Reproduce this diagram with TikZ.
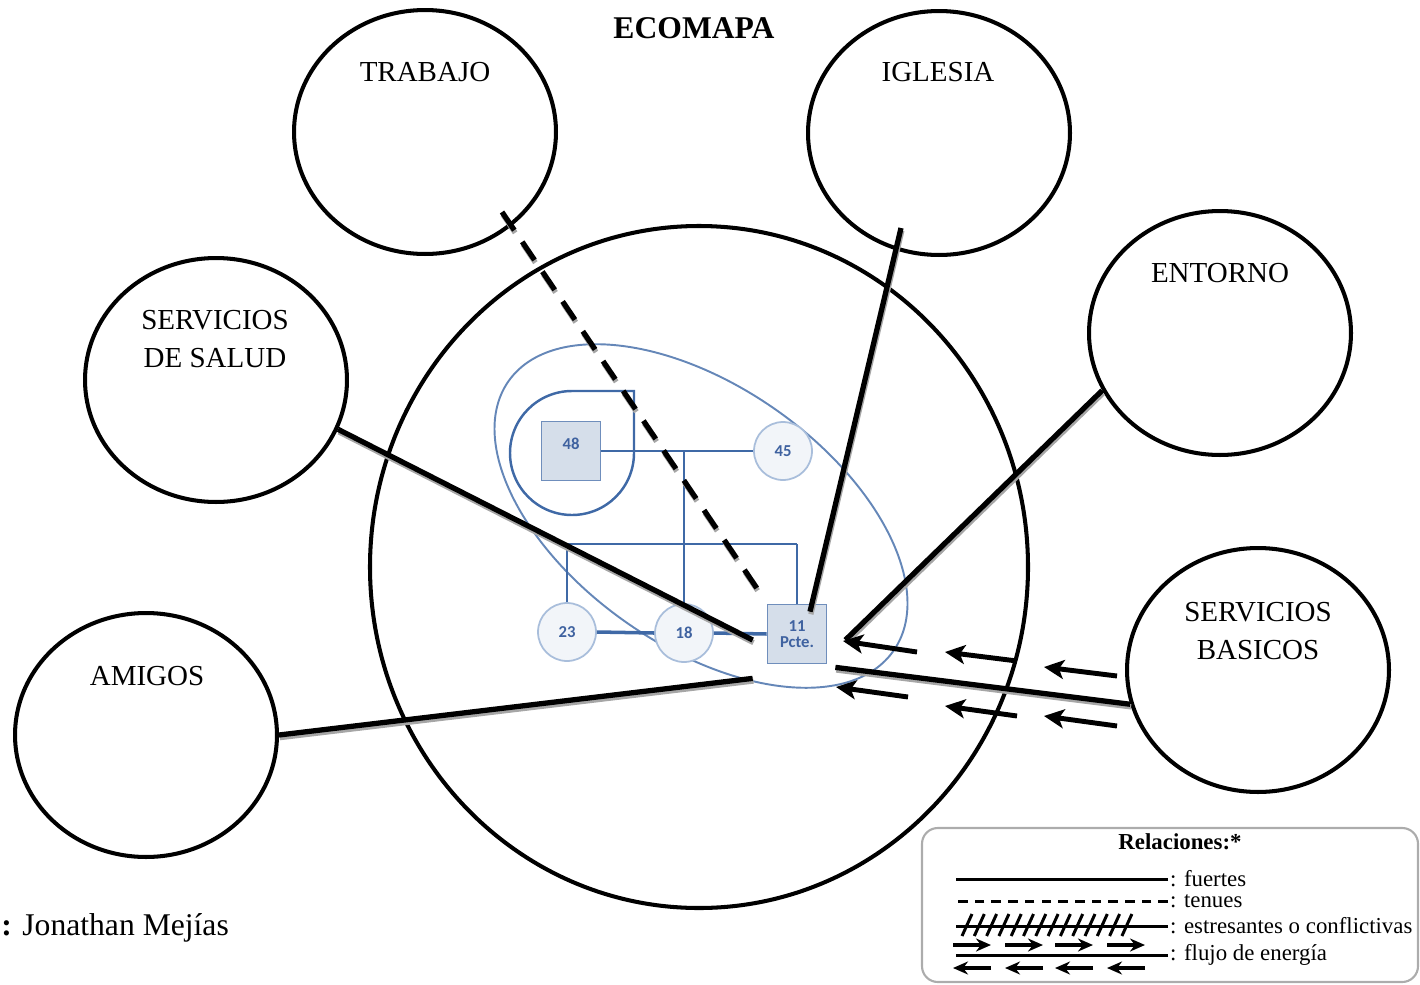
\documentclass[tikz,border=0pt]{standalone}
\usepackage{fontspec}
\setmainfont{Liberation Serif}
\newfontfamily\genofont{Carlito}
\usepackage{xcolor}
\usepackage{tikz}
\usetikzlibrary{arrows.meta}
\usetikzlibrary{shapes,shapes.geometric}
\tikzset{>=stealth}

\definecolor{genoazul}{HTML}{3F69A6}
\definecolor{genoclaro}{HTML}{A9BEDB}
\definecolor{cuadrofondo}{HTML}{D5DEEA}
\definecolor{circfondo}{HTML}{F2F5F9}
\definecolor{genotexto}{HTML}{3F62A0}

\tikzset{
  sistema/.style={draw, ellipse, line width=2.3pt, minimum width=5.24cm, minimum height=4.88cm},
  rotulo/.style={font=\fontsize{16.5}{22}\selectfont, align=center},
  conexion/.style={line width=3pt, preaction={draw=black!35, line width=3pt, transform canvas={shift={(0.5pt,-1.5pt)}}}},
  tenue/.style={line width=3pt, dash pattern=on 12.5pt off 8pt,
    preaction={draw=black!35, line width=3pt, dash pattern=on 12.5pt off 8pt, transform canvas={shift={(0.5pt,-1.5pt)}}}},
  flujo/.style={line width=2.8pt, -{Stealth[length=4mm, width=3.8mm, inset=1mm]}},
  genolinea/.style={genoazul, line width=1.4pt},
  hombre/.style={draw=genoazul!75, line width=1pt, fill=cuadrofondo, minimum size=1.18cm, font=\genofont\bfseries\fontsize{9.5}{10.5}\selectfont, text=genotexto, align=center},
  mujer/.style={circle, draw=genoclaro, line width=1pt, fill=circfondo, minimum size=1.16cm, font=\genofont\bfseries\fontsize{9.5}{10.5}\selectfont, text=genotexto},
  leyenda/.style={font=\fontsize{13}{15}\selectfont, anchor=west, inner sep=1pt},
  muestra/.style={line width=1.7pt},
  flechita/.style={line width=1.8pt, -{Stealth[length=3mm, width=2.6mm]}}
}

\begin{document}
\begin{tikzpicture}[x=0.02cm, y=-0.02cm]
\useasboundingbox (0,0) rectangle (1420,984);

% titulo
\node[font=\bfseries\fontsize{18}{20}\selectfont] (titulo) at (694,28) {ECOMAPA};

% sistema familiar
\draw[line width=2.3pt] (699,567) ellipse [x radius=329, y radius=341];

% sistemas externos
\node[sistema] (trabajo) at (425,132) {};
\node[sistema] (iglesia) at (939,133) {};
\node[sistema] (entorno) at (1220,333) {};
\node[sistema] (salud) at (216,380) {};
\node[sistema] (basicos) at (1258,670) {};
\node[sistema] (amigos) at (146,735) {};
\node[rotulo] (t-trabajo) at (425,72) {TRABAJO};
\node[rotulo] (t-iglesia) at (938,72) {IGLESIA};
\node[rotulo] (t-entorno) at (1220,273) {ENTORNO};
\node[rotulo] (t-salud) at (215,339) {SERVICIOS\\DE SALUD};
\node[rotulo] (t-basicos) at (1258,631) {SERVICIOS\\BASICOS};
\node[rotulo] (t-amigos) at (147,676) {AMIGOS};

% genograma
\draw[genoazul!80, line width=1.1pt, rotate around={-35:(701,516)}] (701,516) ellipse [x radius=235, y radius=130];
\draw[genolinea] (634,453) -- (634,391) -- (572,391) arc[start angle=270, end angle=0, radius=62];
\node[hombre, text depth=8pt] (p48) at (571,451) {48};
\node[mujer] (m45) at (783,451) {45};
\node[mujer] (h23) at (567,632) {23};
\node[mujer] (h18) at (684,633) {18};
\node[hombre] (pcte) at (797,634) {11\\[-1pt]Pcte.};
\coordinate (union) at (684,451);
\coordinate (hermanos) at (684,544);
\draw[genolinea] (p48.east) -- (m45.west);
\draw[genolinea] (union) -- (hermanos);
\draw[genolinea] (h23.north |- hermanos) -- (pcte.north |- hermanos);
\draw[genolinea] (h23.north |- hermanos) -- (h23.north);
\draw[genolinea] (hermanos) -- (h18.north);
\draw[genolinea] (pcte.north |- hermanos) -- (pcte.north);
\draw[genolinea, line width=2pt] (h23.east) -- (h18.west);
\draw[genolinea, line width=2pt] (h18.east) -- (pcte.west);

% relaciones
\coordinate (trabajo-in) at (502,212);
\coordinate (iglesia-in) at (901,228);
\draw[tenue] (trabajo-in) -- ([shift={(-2,-4)}]pcte.north west);
\draw[conexion] (iglesia-in) -- ([shift={(13,8)}]pcte.north);
\draw[conexion] (entorno.206) -- ([shift={(18,6)}]pcte.east);
\draw[conexion] (salud.338) -- ([shift={(-14,6)}]pcte.west);
\draw[conexion] (amigos.east) -- ([shift={(-14,14)}]pcte.south west);
\draw[conexion] ([shift={(8,3)}]pcte.south east) -- (basicos.195);
\foreach \xa/\ya/\xb/\yb in {917/652/843/641, 1017/661/945/652, 1117/676/1044/667,
                             908/697/836/687, 1017/716/945/706, 1117/726/1044/716}
  \draw[flujo] (\xa,\ya) -- (\xb,\yb);

% leyenda
\draw[gray!65, line width=1.2pt, rounded corners=9pt] (922,828) rectangle (1418,982);
\node[font=\bfseries\fontsize{13}{15}\selectfont] (relaciones) at (1180,842) {Relaciones:*};
\node[leyenda] (fuertes) at (1168,879) {: fuertes};
\node[leyenda] (tenues) at (1168,901) {: tenues};
\node[leyenda] (conflicto) at (1168,926) {: estresantes o conflictivas};
\node[leyenda] (energia) at (1168,955) {: flujo de energía};
\draw[muestra] (fuertes.west) -- ++(-212,0);
\draw[muestra, dash pattern=on 5.5pt off 4pt] (tenues.west) -- ++(-212,0);
\draw[muestra] (conflicto.west) -- ++(-212,0);
\foreach \i in {0,...,13}
  \draw[muestra] ({962+\i*12.3},936) -- ({972+\i*12.3},914);
\draw[muestra] (energia.west) -- ++(-212,0);
\foreach \x in {953,1005,1055,1107} {
  \draw[flechita] (\x,945) -- (\x+38,945);
  \draw[flechita] (\x+38,968) -- (\x,968);
}

% autor
\node[anchor=west, inner sep=0pt, font=\fontsize{18}{20}\selectfont] (autor) at (1,928) {\textbf{:} Jonathan Mejías};
\end{tikzpicture}
\end{document}
